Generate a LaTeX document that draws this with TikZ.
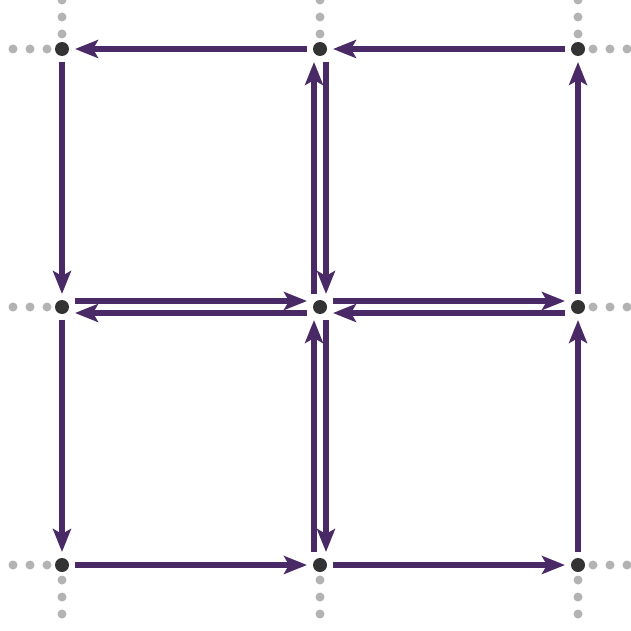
\documentclass[tikz,border=0pt]{standalone}
\usepackage{tikz}
\usetikzlibrary{arrows.meta}
\definecolor{flowPurple}{HTML}{4A2A66}
\definecolor{vertGray}{HTML}{333333}
\definecolor{dotGray}{HTML}{B3B3B3}
\begin{document}
\begin{tikzpicture}[x=1pt,y=-1pt,
  vert/.style={circle,fill=vertGray,inner sep=0pt,minimum size=14pt},
  flow/.style={draw=flowPurple,line width=6.5pt,shorten <=13pt,shorten >=13pt,
               -{Stealth[length=23pt,width=18pt,inset=5pt]}}]
  \useasboundingbox (0,0) rectangle (630,631);
  % grid vertices
  \foreach \i/\x in {0/62,1/320,2/578}
    \foreach \j/\y in {0/49,1/307,2/565}
      \node[vert] (v\i\j) at (\x,\y) {};
  % dotted continuation of the grid
  \foreach \x in {62,320,578}
    \foreach \d in {15,32,49} {
      \fill[dotGray] (\x,49-\d) circle (4.5pt);
      \fill[dotGray] (\x,565+\d) circle (4.5pt);
    }
  \foreach \y in {49,307,565}
    \foreach \d in {15,32,49} {
      \fill[dotGray] (62-\d,\y) circle (4.5pt);
      \fill[dotGray] (578+\d,\y) circle (4.5pt);
    }
  % outer boundary
  \draw[flow] (v10.center) -- (v00.center);
  \draw[flow] (v20.center) -- (v10.center);
  \draw[flow] (v00.center) -- (v01.center);
  \draw[flow] (v01.center) -- (v02.center);
  \draw[flow] (v21.center) -- (v20.center);
  \draw[flow] (v22.center) -- (v21.center);
  \draw[flow] (v02.center) -- (v12.center);
  \draw[flow] (v12.center) -- (v22.center);
  % inner edges, both ways
  \draw[flow] ([xshift=-6pt]v11.center) -- ([xshift=-6pt]v10.center);
  \draw[flow] ([xshift=6pt]v10.center) -- ([xshift=6pt]v11.center);
  \draw[flow] ([xshift=-6pt]v12.center) -- ([xshift=-6pt]v11.center);
  \draw[flow] ([xshift=6pt]v11.center) -- ([xshift=6pt]v12.center);
  \draw[flow] ([yshift=6pt]v01.center) -- ([yshift=6pt]v11.center);
  \draw[flow] ([yshift=-6pt]v11.center) -- ([yshift=-6pt]v01.center);
  \draw[flow] ([yshift=6pt]v11.center) -- ([yshift=6pt]v21.center);
  \draw[flow] ([yshift=-6pt]v21.center) -- ([yshift=-6pt]v11.center);
\end{tikzpicture}
\end{document}
